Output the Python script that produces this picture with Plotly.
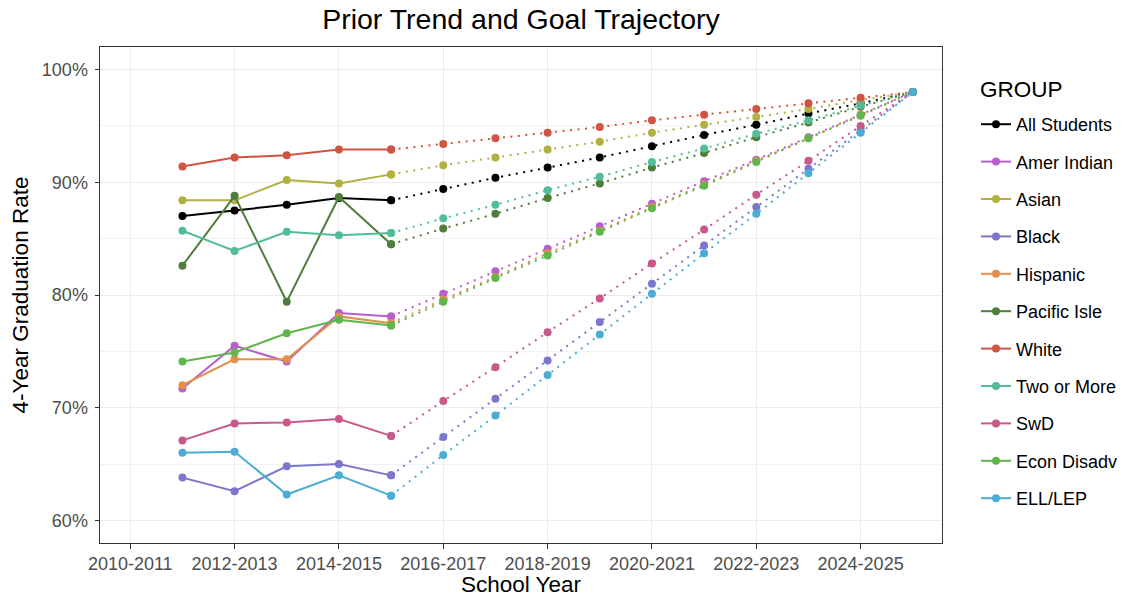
import plotly.graph_objects as go

# School years (numeric start year): 2011 -> "2011-2012"
actual_years = [2011, 2012, 2013, 2014, 2015]
goal_years = [2015, 2016, 2017, 2018, 2019, 2020, 2021, 2022, 2023, 2024, 2025]
tick_years = [2010, 2012, 2014, 2016, 2018, 2020, 2022, 2024]
tick_labels = ["2010-2011", "2012-2013", "2014-2015", "2016-2017",
               "2018-2019", "2020-2021", "2022-2023", "2024-2025"]

groups = ["All Students", "Amer Indian", "Asian", "Black", "Hispanic", "Pacific Isle",
          "White", "Two or More", "SwD", "Econ Disadv", "ELL/LEP"]
colors = ["#000000", "#B65FCD", "#B2B040", "#7B77CD", "#E0904A", "#4E7E3A",
          "#D05441", "#52BD98", "#C9598A", "#5FB74C", "#4BACD4"]

# Prior trend (actual rates, %)
all_students = [87.0, 87.5, 88.0, 88.6, 88.4]
amer_indian = [71.7, 75.5, 74.1, 78.4, 78.1]
asian = [88.4, 88.4, 90.2, 89.9, 90.7]
black = [63.8, 62.6, 64.8, 65.0, 64.0]
hispanic = [72.0, 74.3, 74.3, 78.1, 77.5]
pacific_isle = [82.6, 88.8, 79.4, 88.7, 84.5]
white = [91.4, 92.2, 92.4, 92.9, 92.9]
two_or_more = [85.7, 83.9, 85.6, 85.3, 85.5]
swd = [67.1, 68.6, 68.7, 69.0, 67.5]
econ_disadv = [74.1, 74.9, 76.6, 77.8, 77.3]
ell_lep = [66.0, 66.1, 62.3, 64.0, 62.2]

# Goal trajectory (2015-2016 through 2025-2026, %)
g_all_students = [88.4, 89.4, 90.4, 91.3, 92.2, 93.2, 94.2, 95.1, 96.1, 97.0, 98.0]
g_amer_indian = [78.1, 80.1, 82.1, 84.1, 86.1, 88.1, 90.1, 92.0, 94.0, 96.0, 98.0]
g_asian = [90.7, 91.5, 92.2, 92.9, 93.6, 94.4, 95.1, 95.8, 96.5, 97.3, 98.0]
g_black = [64.0, 67.4, 70.8, 74.2, 77.6, 81.0, 84.4, 87.8, 91.2, 94.6, 98.0]
g_hispanic = [77.5, 79.6, 81.6, 83.7, 85.7, 87.8, 89.8, 91.9, 93.9, 96.0, 98.0]
g_pacific_isle = [84.5, 85.9, 87.2, 88.6, 89.9, 91.3, 92.6, 94.0, 95.3, 96.7, 98.0]
g_white = [92.9, 93.4, 93.9, 94.4, 94.9, 95.5, 96.0, 96.5, 97.0, 97.5, 98.0]
g_two_or_more = [85.5, 86.8, 88.0, 89.3, 90.5, 91.8, 93.0, 94.3, 95.5, 96.8, 98.0]
g_swd = [67.5, 70.6, 73.6, 76.7, 79.7, 82.8, 85.8, 88.9, 91.9, 95.0, 98.0]
g_econ_disadv = [77.3, 79.4, 81.5, 83.5, 85.6, 87.7, 89.7, 91.8, 93.9, 95.9, 98.0]
g_ell_lep = [62.2, 65.8, 69.3, 72.9, 76.5, 80.1, 83.7, 87.2, 90.8, 94.4, 98.0]

actual = [all_students, amer_indian, asian, black, hispanic, pacific_isle,
          white, two_or_more, swd, econ_disadv, ell_lep]
goal = [g_all_students, g_amer_indian, g_asian, g_black, g_hispanic, g_pacific_isle,
        g_white, g_two_or_more, g_swd, g_econ_disadv, g_ell_lep]

FONT = "Arial, 'Liberation Sans', sans-serif"
# The page places the figure 8px in from the top-left corner, so every position
# below is in figure coordinates (screen - 8).
W, H = 1114, 589
ML, MR, MT, MB = 92, 180, 39, 54
PW = W - ML - MR
PH = H - MT - MB

fig = go.Figure()
for name, col, a, g in zip(groups, colors, actual, goal):
    fig.add_trace(go.Scatter(
        x=actual_years, y=a, mode="lines+markers", name=name,
        legendgroup=name, showlegend=True,
        line=dict(color=col, width=2), marker=dict(color=col, size=8),
        hoverinfo="skip"))
    fig.add_trace(go.Scatter(
        x=goal_years, y=g, mode="lines+markers", name=name,
        legendgroup=name, showlegend=False,
        line=dict(color=col, width=2, dash="2px,5.5px"),
        marker=dict(color=col, size=8),
        hoverinfo="skip"))

fig.update_layout(
    width=W, height=H,
    paper_bgcolor="white", plot_bgcolor="white",
    margin=dict(l=ML, r=MR, t=MT, b=MB, autoexpand=False),
    font=dict(family=FONT, color="#000000"),
    title=dict(text="Prior Trend and Goal Trajectory", xref="paper", x=0.5, xanchor="center",
               yref="container", y=1 - 11 / H, yanchor="middle",
               font=dict(size=28.5, color="#000000")),
    legend=dict(
        font=dict(size=18, color="#000000"),
        x=(968 - ML) / PW, xanchor="left", y=1 - (98 - MT) / PH, yanchor="top",
        traceorder="grouped", tracegroupgap=11,
        bgcolor="rgba(0,0,0,0)", itemwidth=30),
    annotations=[dict(text="GROUP", xref="paper", yref="paper",
                      x=(970 - ML) / PW, xanchor="left",
                      y=1 - (81 - MT) / PH, yanchor="middle", showarrow=False,
                      font=dict(size=22.5, color="#000000"))],
    showlegend=True,
)

fig.update_xaxes(
    range=[2009.42, 2025.56], automargin=False,
    tickmode="array", tickvals=tick_years, ticktext=tick_labels,
    tickfont=dict(size=18, color="#4D4D4D"),
    ticks="outside", ticklen=4.5, tickwidth=1, tickcolor="#333333",
    showgrid=True, gridcolor="#EBEBEB", gridwidth=1.2,
    showline=True, linecolor="#333333", linewidth=1, mirror=True,
    zeroline=False,
    title=dict(text="School Year", font=dict(size=22.5, color="#000000"), standoff=14),
)
fig.update_yaxes(
    range=[58, 102], automargin=False,
    tickmode="array", tickvals=[60, 70, 80, 90, 100],
    ticktext=["60%", "70%", "80%", "90%", "100%"],
    tickfont=dict(size=18, color="#4D4D4D"),
    ticks="outside", ticklen=4.5, tickwidth=1, tickcolor="#333333",
    ticklabelstandoff=3,
    showgrid=True, gridcolor="#EBEBEB", gridwidth=1.2,
    minor=dict(dtick=5, tick0=0, showgrid=True, gridcolor="#F2F2F2", gridwidth=0.8),
    showline=True, linecolor="#333333", linewidth=1, mirror=True,
    zeroline=False,
    title=dict(text="4-Year Graduation Rate", font=dict(size=22.5, color="#000000"), standoff=8),
)

fig.write_html("out.html")
